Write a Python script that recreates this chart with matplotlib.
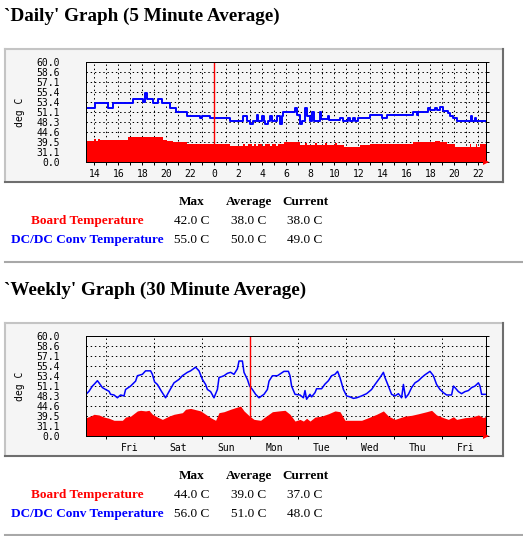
import numpy as np
import matplotlib
matplotlib.use("Agg")
import matplotlib.pyplot as plt
from matplotlib.patches import Rectangle
from matplotlib.lines import Line2D

W, H = 523, 536

# ---- daily graph (5 minute average), hours counted from previous midnight
day_blue_t = [13.31, 14.06, 15.14, 15.56, 17.22, 18.06, 18.22, 18.39, 18.89, 19.31,
              19.64, 20.31, 20.81, 21.73, 22.81, 22.98, 23.64, 25.31, 26.39, 26.73,
              26.98, 27.22, 27.56, 27.68, 27.98, 28.14, 28.23, 28.48, 28.64, 28.81,
              29.23, 29.48, 29.64, 29.75, 30.73, 30.89, 31.14, 31.31, 31.56, 31.73,
              31.98, 32.14, 32.27, 32.81, 32.89, 33.48, 33.56, 34.48, 34.73, 35.14,
              35.31, 35.56, 35.73, 35.98, 36.98, 37.98, 38.39, 40.56, 40.89, 40.98,
              41.81, 41.98, 42.39, 42.56, 42.81, 43.06, 43.48, 43.64, 43.89, 44.23,
              45.35, 45.48, 45.73, 45.81, 46.64]
day_blue_v = [52.2, 53.3, 52.2, 53.3, 54.1, 53.4, 55.2, 54.1, 53.3, 54.1,
              53.3, 52.2, 51.2, 50.1, 49.6, 50.1, 49.4, 48.6, 50.0, 48.6,
              47.7, 48.6, 50.2, 48.6, 50.0, 48.6, 47.7, 48.6, 50.0, 48.6,
              50.0, 47.7, 50.0, 51.2, 52.1, 50.2, 47.7, 48.6, 52.1, 50.0,
              48.6, 51.2, 48.6, 51.2, 49.2, 50.0, 49.0, 49.5, 48.7, 49.5,
              48.7, 49.5, 48.7, 49.4, 50.2, 49.4, 50.2, 51.2, 50.2, 51.2,
              52.1, 51.5, 52.1, 51.5, 52.3, 51.3, 50.8, 50.0, 49.4, 48.6,
              50.0, 48.6, 49.4, 48.6, 48.6]

day_red_t = [13.31, 13.98, 14.14, 14.31, 14.48, 14.64, 16.81, 19.73, 20.06, 20.56,
             21.73, 23.89, 25.31, 26.39, 26.56, 26.81, 27.14, 27.31, 27.48, 27.64,
             27.98, 28.23, 28.64, 28.81, 29.14, 29.31, 29.64, 29.81, 31.14, 31.56,
             31.73, 32.39, 32.56, 33.23, 33.39, 34.06, 34.23, 34.81, 36.14, 36.98,
             40.56, 42.39, 42.81, 43.39, 44.06, 45.31, 45.39, 45.81, 45.89, 46.14,
             46.64]
day_red_v = [40.3, 41.2, 40.3, 41.2, 40.8, 41.0, 42.3, 40.8, 40.3, 39.6,
             38.5, 38.2, 36.5, 38.0, 36.5, 38.3, 36.5, 38.3, 36.5, 38.6,
             36.5, 38.3, 36.9, 38.5, 36.5, 38.4, 38.6, 39.5, 37.8, 38.9,
             37.8, 38.9, 37.8, 38.9, 37.8, 38.9, 37.8, 36.3, 37.8, 38.3,
             39.5, 40.2, 39.5, 38.3, 36.3, 38.3, 36.3, 38.3, 36.3, 38.3,
             38.3]

day_range = (13.31, 46.64)
day_major = [14, 16, 18, 20, 22, 24, 26, 28, 30, 32, 34, 36, 38, 40, 42, 44, 46]
day_labels = ["14", "16", "18", "20", "22", "0", "2", "4", "6", "8", "10",
              "12", "14", "16", "18", "20", "22"]
day_now_line = 24

# ---- weekly graph (30 minute average), hours counted from Thursday 00:00
week_blue_t = [14, 15.5, 17.2, 18, 19.7, 20.5, 22.2, 23.8, 25.5, 26.3,
               28, 29.7, 31.3, 33, 33.8, 36.3, 38.8, 39.7, 42.2, 43.8,
               46.3, 47.2, 48.3, 49.7, 51.7, 53.8, 55.5, 58, 60.5, 62.2,
               64.7, 66.3, 68.8, 70.5, 72.2, 73.8, 74.7, 76.3, 78, 79.7,
               80.5, 83, 84.7, 86.3, 88, 89.7, 90.5, 92.2, 93, 94.7,
               95.8, 97.2, 98.8, 100.5, 103, 104.7, 105.5, 107.2, 109.7, 113,
               115.2, 116, 116.8, 118.5, 121, 122.7, 123.5, 124.3, 126, 126.8,
               128.5, 129.3, 131.8, 133.5, 135.2, 136.8, 138.5, 139.8, 141, 142.7,
               144.3, 146, 147.7, 149.3, 151.8, 154.3, 156.8, 158.5, 161, 162.7,
               163.5, 165.2, 166.8, 168.5, 170.2, 171.8, 172.7, 173.8, 175.2, 176.8,
               178.5, 180.2, 181.8, 183.5, 186, 187.7, 189.3, 191, 192.7, 194.3,
               196.8, 197.7, 198.5, 200.2, 201.8, 203.5, 205.2, 206.8, 208.5, 210.2,
               211, 211.8, 214]
week_blue_v = [48.8, 49.7, 51.1, 51.5, 52.4, 51.9, 50.7, 50.2, 49.7, 48.8,
               48.6, 47.7, 48.6, 48.3, 50.2, 51.1, 52.3, 53.5, 53.8, 54.5,
               54.5, 53.8, 52.1, 51.5, 49.7, 47.7, 49.6, 51.9, 52.7, 53.5,
               54.2, 54.5, 55.2, 54.5, 52.7, 51.5, 50.2, 49.6, 47.7, 50.2,
               53.1, 53.5, 54.0, 54.2, 53.8, 54.9, 56.3, 56.3, 54.2, 52.7,
               51.1, 50.2, 48.8, 47.7, 48.8, 50.2, 52.3, 53.5, 53.5, 54.4,
               54.4, 53.5, 51.1, 48.8, 48.6, 47.7, 49.9, 47.2, 48.8, 48.0,
               49.3, 50.4, 50.4, 51.6, 52.4, 53.5, 53.8, 54.4, 53.1, 50.2,
               48.3, 48.0, 47.5, 47.7, 48.3, 49.0, 50.2, 51.5, 53.1, 54.2,
               53.1, 51.1, 48.8, 48.3, 49.0, 47.7, 51.5, 47.7, 48.8, 50.7,
               51.9, 52.4, 53.1, 53.7, 54.4, 53.5, 51.5, 50.2, 49.3, 48.6,
               48.6, 51.1, 50.7, 49.6, 49.0, 49.6, 49.9, 50.7, 51.1, 51.9,
               51.1, 48.8, 48.8]

week_red_t = [14, 16.3, 18, 20.5, 23, 25.5, 28, 32.2, 33.8, 36.3,
              39.7, 41.3, 43.8, 45.5, 47.2, 49.7, 52.2, 55.5, 58, 62.2,
              63.8, 66.3, 71.3, 73.8, 76.3, 78.8, 80.5, 83, 86.3, 89.7,
              91.3, 93, 95.8, 98, 101.3, 103, 104.7, 107.2, 110.5, 113.5,
              116, 118.5, 121, 122.7, 124.3, 126, 128.5, 131.8, 135.2, 138.5,
              141, 143.5, 151.8, 155.2, 159.3, 162.7, 165.2, 168.5, 171, 173.5,
              176.8, 180.2, 184.3, 186.8, 189.3, 192.7, 195.2, 197.7, 199.3, 203.5,
              206.8, 210.2, 212.7, 214]
week_red_v = [38.5, 39.5, 40.6, 40.2, 38.9, 38.1, 36.6, 36.6, 38.9, 39.5,
              42.4, 42.7, 42.4, 42.7, 40.6, 38.9, 37.3, 39.5, 40.6, 41.5,
              43.2, 43.6, 42.4, 40.6, 38.5, 36.6, 41.5, 42.0, 43.2, 44.2,
              44.6, 42.4, 39.5, 37.3, 36.6, 38.5, 40.0, 42.0, 42.4, 42.7,
              40.6, 36.0, 37.3, 36.0, 38.1, 36.0, 38.9, 39.5, 40.9, 42.4,
              42.0, 36.6, 36.6, 38.5, 40.6, 42.4, 39.5, 37.3, 38.5, 39.5,
              40.0, 40.9, 42.0, 42.7, 40.2, 38.5, 37.3, 39.1, 37.3, 38.5,
              38.9, 40.2, 38.5, 39.5]

week_range = (14, 214)
week_days = [24, 48, 72, 96, 120, 144, 168, 192]
week_noon = [36, 60, 84, 108, 132, 156, 180, 204]
week_labels = ["Fri", "Sat", "Sun", "Mon", "Tue", "Wed", "Thu", "Fri"]
week_now_line = 96

y_labels = ["0.0", "31.1", "39.5", "44.6", "48.3", "51.1",
            "53.4", "55.4", "57.1", "58.6", "60.0"]

# ---- summary tables
row_names = ["Board Temperature", "DC/DC Conv Temperature"]
row_colors = ["#ff0000", "#0000ff"]
col_names = ["Max", "Average", "Current"]
day_stats = [["42.0 C", "38.0 C", "38.0 C"], ["55.0 C", "50.0 C", "49.0 C"]]
week_stats = [["44.0 C", "39.0 C", "37.0 C"], ["56.0 C", "51.0 C", "48.0 C"]]


def fx(x):
    return x / W


def fy(y):
    return 1 - y / H


def fwd(v):
    return (101.0 ** (np.asarray(v) / 60.0) - 1) / 100.0


def inv(f):
    f = np.clip(np.asarray(f, dtype=float), -0.0099, None)
    return 60.0 * np.log1p(100.0 * f) / np.log(101.0)


fig = plt.figure(figsize=(W / 100, H / 100), dpi=100)
fig.patch.set_facecolor("white")

mono = "DejaVu Sans Mono"
serif = "Liberation Serif"


def frame(top, bottom, left=5, right=503):
    fig.patches.append(Rectangle((fx(left), fy(bottom)), fx(right - left),
                                 (bottom - top) / H, transform=fig.transFigure,
                                 facecolor="#f5f5f5", edgecolor="none", zorder=-5))
    lw = 1.5
    fig.add_artist(Line2D([fx(left), fx(right)], [fy(top), fy(top)], color="#c4c4c4", lw=lw))
    fig.add_artist(Line2D([fx(left), fx(left)], [fy(top), fy(bottom)], color="#c4c4c4", lw=lw))
    fig.add_artist(Line2D([fx(left), fx(right)], [fy(bottom), fy(bottom)], color="#6e6e6e", lw=lw))
    fig.add_artist(Line2D([fx(right), fx(right)], [fy(top), fy(bottom)], color="#6e6e6e", lw=lw))


def graph(top, t_red, v_red, t_blue, v_blue, xr, step, blue_lw):
    ax = fig.add_axes([fx(86), fy(top + 100), fx(400), 100 / H])
    ax.set_facecolor("#f5f5f5")
    ax.set_yscale("function", functions=(fwd, inv))
    if step:
        ax.fill_between(t_red, 0, v_red, step="post", color="#ff0000", lw=0, zorder=2)
        ax.step(t_blue, v_blue, where="post", color="#0000ff", lw=blue_lw, zorder=3)
    else:
        ax.fill_between(t_red, 0, v_red, color="#ff0000", lw=0, zorder=2)
        ax.plot(t_blue, v_blue, color="#0000ff", lw=blue_lw, zorder=3)
    ax.set_xlim(*xr)
    ax.set_ylim(0, 60)
    ax.set_yticks(inv(np.linspace(0, 1, 11)))
    ax.set_yticklabels(y_labels, fontfamily=mono, fontsize=7)
    ax.tick_params(axis="y", left=False, right=True, labelleft=True,
                   direction="out", length=2, width=0.72, pad=17)
    ax.grid(True, which="major", axis="y", color="black", lw=0.72,
            linestyle=(0, (1.4, 2.8)), zorder=4)
    for s in ax.spines.values():
        s.set_linewidth(0.72)
        s.set_zorder(6)
    ax.plot([xr[1]], [0], marker=">", color="#ff0000", ms=4, mew=0,
            clip_on=False, zorder=7)
    fig.text(fx(20), fy(top + 50), "deg C", rotation=90, ha="center",
             va="center", fontfamily=mono, fontsize=7)
    return ax


# ---- titles
fig.text(fx(4), fy(16), "`Daily' Graph (5 Minute Average)", fontfamily=serif,
         fontweight="bold", fontsize=13.8, va="center", ha="left")
fig.text(fx(4), fy(290), "`Weekly' Graph (30 Minute Average)", fontfamily=serif,
         fontweight="bold", fontsize=13.8, va="center", ha="left")

# ---- daily
frame(49, 182)
ax1 = graph(62, day_red_t, day_red_v, day_blue_t, day_blue_v, day_range, True, 1.4)
ax1.set_xticks(day_major)
ax1.set_xticklabels(day_labels, fontfamily=mono, fontsize=7)
ax1.set_xticks(np.arange(14, 47), minor=True)
ax1.tick_params(axis="x", which="both", direction="out", length=2, width=0.72, pad=3)
ax1.grid(True, which="both", axis="x", color="black", lw=0.72,
         linestyle=(0, (1.4, 2.8)), zorder=4)
ax1.axvline(day_now_line, color="#ff0000", lw=1, zorder=5)

# ---- weekly
frame(323, 456)
ax2 = graph(336, week_red_t, week_red_v, week_blue_t, week_blue_v, week_range, False, 1.1)
ax2.set_xticks(week_days)
ax2.set_xticklabels([""] * len(week_days))
ax2.set_xticks(week_noon, minor=True)
ax2.set_xticklabels(week_labels, minor=True, fontfamily=mono, fontsize=7)
ax2.tick_params(axis="x", which="major", direction="out", length=2, width=0.72)
ax2.tick_params(axis="x", which="minor", length=0, pad=5)
ax2.grid(True, which="major", axis="x", color="black", lw=0.72,
         linestyle=(0, (1.4, 2.8)), zorder=4)
ax2.axvline(week_now_line, color="#ff0000", lw=1, zorder=5)


# ---- tables
def table(y0, stats):
    col_x = [192, 249, 305]
    for cx, name in zip(col_x, col_names):
        fig.text(fx(cx), fy(y0), name, fontfamily=serif, fontweight="bold",
                 fontsize=9.5, ha="center", va="center")
    for i, (name, col) in enumerate(zip(row_names, row_colors)):
        yy = y0 + 19 * (i + 1)
        fig.text(fx(87), fy(yy), name, fontfamily=serif, fontweight="bold",
                 fontsize=9.5, ha="center", va="center", color=col)
        for cx, val in zip(col_x, stats[i]):
            fig.text(fx(cx), fy(yy), val, fontfamily=serif, fontsize=9.5,
                     ha="center", va="center")


table(202, day_stats)
table(476, week_stats)

# ---- horizontal rules
for yy in (261.5, 535):
    fig.add_artist(Line2D([fx(5), fx(523)], [fy(yy), fy(yy)], color="#a8a8a8", lw=1.5))

fig.savefig("out.png", dpi=100)
